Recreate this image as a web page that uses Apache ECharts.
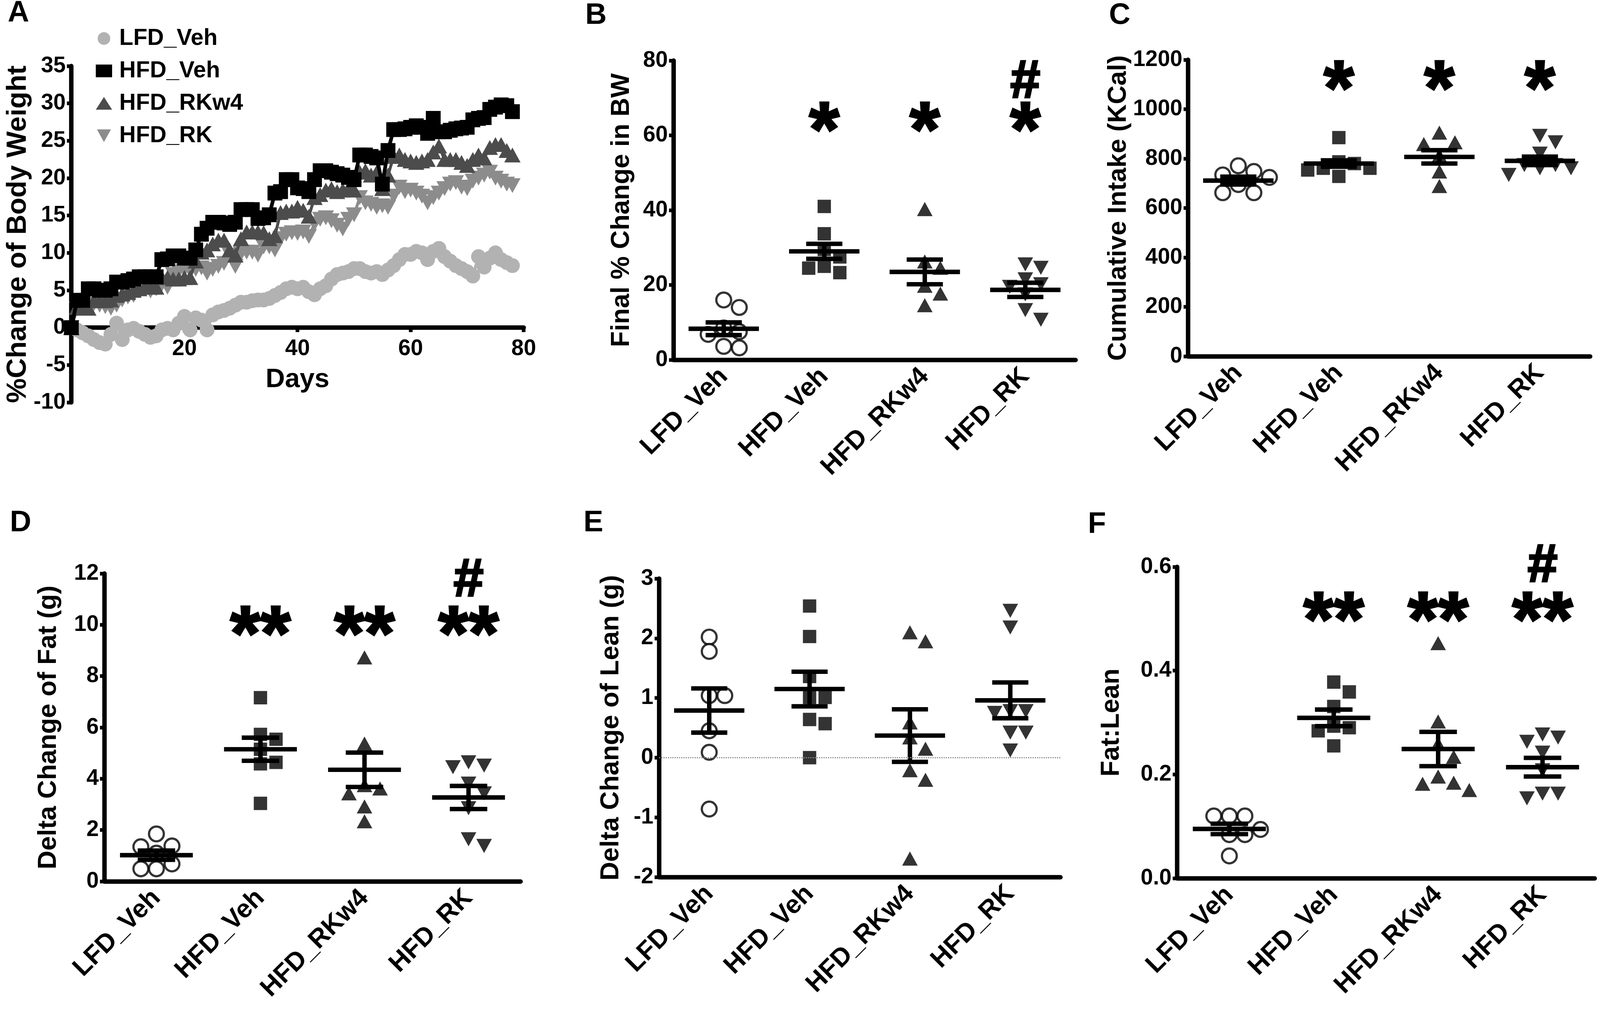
<!DOCTYPE html>
<html>
<head>
<meta charset="utf-8">
<title>Body weight, intake and body composition</title>
<script src="https://cdn.jsdelivr.net/npm/echarts@6/dist/echarts.min.js"></script>
<style>
html, body { margin: 0; padding: 0; background: #fff; overflow: hidden; }
#main { width: 100vw; height: 100vh; }
</style>
</head>
<body>
<div id="main"></div>
<script>
// ---- panel A: % change of body weight, one value per day (day 0..78)
const lfdVeh = [0, -0.3, -0.7, -1.1, -1.6, -2.0, -2.2, -0.9, 0.6, -1.6, -0.3, -0.1, -0.5, -0.9, -1.3, -1.1, -0.3, -0.1, -0.3, 0.6,
  1.5, -0.3, 1.3, 1.0, -0.3, 1.7, 2.1, 2.3, 2.6, 3.0, 3.4, 3.4, 3.6, 3.7, 3.7, 3.9, 4.3, 4.7, 5.2, 5.4,
  5.2, 5.4, 4.8, 4.4, 5.2, 5.6, 6.5, 7.1, 7.3, 7.5, 7.9, 7.9, 7.5, 7.3, 7.5, 7.1, 7.7, 8.3, 9.1, 9.8,
  9.8, 10.2, 10.0, 9.1, 10.2, 10.6, 9.5, 8.9, 8.3, 7.9, 7.5, 6.9, 9.5, 8.1, 9.3, 10.0, 9.1, 8.7, 8.3];
const hfdVeh = [0, 3.65, 3.65, 5.2, 5.2, 5.0, 5.0, 5.2, 6.1, 6.1, 6.3, 6.5, 6.8, 6.8, 6.8, 6.8, 9.1, 9.2, 9.6, 9.6,
  9.3, 9.3, 10.4, 12.5, 13.3, 14.1, 14.1, 14.0, 13.8, 14.1, 15.8, 15.8, 15.8, 14.6, 14.7, 15.1, 18.0, 18.2, 19.8, 19.8,
  18.7, 18.6, 18.2, 19.8, 21.0, 21.0, 20.8, 20.6, 20.4, 20.1, 19.8, 23.1, 23.1, 22.9, 22.7, 19.2, 23.7, 26.5, 26.5, 26.6,
  26.8, 27.0, 26.8, 26.0, 28.0, 26.2, 26.2, 26.4, 26.6, 26.7, 26.8, 27.8, 28.0, 28.1, 29.2, 29.5, 29.8, 29.7, 28.9];
const hfdRKw4 = [0, 2.7, 2.6, 2.6, 3.6, 3.6, 3.6, 3.7, 4.3, 4.5, 4.7, 5.0, 5.2, 5.4, 5.4, 5.4, 6.7, 6.7, 6.5, 6.5,
  6.7, 6.7, 8.9, 10.1, 10.4, 11.2, 11.7, 11.7, 10.4, 9.7, 11.9, 12.8, 12.8, 12.8, 12.7, 11.9, 12.3, 15.4, 15.6, 15.6,
  16.1, 15.7, 14.9, 17.4, 17.8, 18.4, 18.6, 18.2, 18.4, 18.6, 18.4, 20.8, 21.0, 20.4, 20.8, 18.6, 20.4, 22.9, 23.1, 22.5,
  22.3, 22.1, 22.3, 22.5, 23.5, 24.3, 22.5, 22.5, 22.5, 22.1, 21.7, 22.5, 23.1, 22.7, 24.1, 24.5, 24.5, 23.7, 23.1];
const hfdRK = [0, 2.5, 2.6, 2.8, 3.2, 3.0, 2.8, 2.6, 3.0, 3.7, 4.1, 4.3, 4.9, 5.2, 4.9, 5.2, 5.8, 5.4, 7.1, 7.5,
  7.8, 7.6, 7.8, 8.0, 7.3, 7.8, 8.2, 8.6, 9.7, 8.2, 9.9, 10.1, 10.1, 9.7, 10.8, 10.8, 10.4, 11.9, 12.5, 12.7,
  12.6, 12.8, 12.2, 13.9, 14.5, 14.7, 14.3, 13.7, 13.2, 14.5, 15.1, 17.4, 16.7, 16.5, 16.1, 16.3, 16.1, 17.6, 18.8, 18.2,
  18.4, 18.0, 17.6, 16.7, 17.4, 18.0, 18.6, 19.2, 19.4, 18.8, 18.6, 19.6, 20.0, 20.4, 20.8, 20.0, 19.6, 19.2, 19.0];
const weightTicks = [-10, -5, 0, 5, 10, 15, 20, 25, 30, 35];
const dayTicks = [0, 20, 40, 60, 80];

// ---- panels B-F: individual animals, mean and SEM per group
const groups = ['LFD_Veh', 'HFD_Veh', 'HFD_RKw4', 'HFD_RK'];

const bwLFD = [16, 14, 8.5, 7.5, 6.8, 3.6, 3.2];
const bwHFD = [41, 33.7, 29.5, 27.5, 25, 24.5, 23.3];
const bwRKw4 = [40.3, 26.3, 24.6, 19.8, 17.7, 14.6];
const bwRK = [25.5, 24.6, 21.5, 20.2, 19.5, 17.5, 13.3, 10.7];
const bwMean = [8.3, 29.0, 23.5, 18.7];
const bwSem = [1.7, 2.0, 3.3, 1.9];
const bwTicks = [0, 20, 40, 60, 80];
const bwStars = ['', '*', '*', '*'];
const bwHash = ['', '', '', '#'];

const kcalLFD = [771, 748, 734, 724, 695, 662, 662];
const kcalHFD = [885, 787, 780, 761, 761, 754, 728];
const kcalRKw4 = [905, 866, 859, 813, 748, 689];
const kcalRK = [892, 866, 820, 774, 774, 761, 761, 734];
const kcalMean = [711, 780, 807, 791];
const kcalSem = [16, 13, 27, 17];
const kcalTicks = [0, 200, 400, 600, 800, 1000, 1200];
const kcalStars = ['', '*', '*', '*'];
const kcalHash = ['', '', '', ''];

const fatLFD = [1.85, 1.38, 1.35, 1.1, 0.68, 0.49, 0.49];
const fatHFD = [7.16, 5.73, 5.54, 5.15, 4.64, 4.58, 3.04];
const fatRKw4 = [8.73, 5.37, 3.75, 3.62, 3.43, 2.92, 2.34];
const fatRK = [4.64, 4.51, 4.45, 3.81, 3.43, 2.85, 1.64, 1.38];
const fatMean = [1.02, 5.15, 4.35, 3.27];
const fatSem = [0.18, 0.45, 0.67, 0.45];
const fatTicks = [0, 2, 4, 6, 8, 10, 12];
const fatStars = ['', '**', '**', '**'];
const fatHash = ['', '', '', '#'];

const leanLFD = [2.02, 1.78, 1.04, 1.04, 0.45, 0.09, -0.86];
const leanHFD = [2.54, 2.03, 1.36, 1.01, 1.01, 0.64, 0.57, 0.0];
const leanRKw4 = [2.1, 1.95, 0.59, 0.34, 0.15, -0.21, -0.37, -1.69];
const leanRK = [2.46, 2.18, 0.78, 0.78, 0.75, 0.42, 0.42, 0.12];
const leanMean = [0.79, 1.15, 0.37, 0.96];
const leanSem = [0.37, 0.29, 0.44, 0.30];
const leanTicks = [-2, -1, 0, 1, 2, 3];
const leanStars = ['', '', '', ''];
const leanHash = ['', '', '', ''];

const ratioLFD = [0.12, 0.12, 0.12, 0.094, 0.084, 0.084, 0.043];
const ratioHFD = [0.378, 0.359, 0.331, 0.293, 0.290, 0.284, 0.255];
const ratioRKw4 = [0.453, 0.302, 0.259, 0.234, 0.196, 0.184, 0.182, 0.170];
const ratioRK = [0.277, 0.271, 0.263, 0.242, 0.208, 0.163, 0.163, 0.154];
const ratioMean = [0.095, 0.309, 0.249, 0.214];
const ratioSem = [0.010, 0.016, 0.033, 0.018];
const ratioTicks = [0, 0.2, 0.4, 0.6];
const ratioStars = ['', '**', '**', '**'];
const ratioHash = ['', '', '', '#'];

// ---- layout, designed on a 4552 x 2616 page and scaled to the window
const KX = (window.innerWidth || 4552) / 4552;
const KY = (window.innerHeight || 2616) / 2616;
const KF = Math.sqrt(KX * KY);
const X = v => v * KX, Y = v => v * KY, F = v => v * KF;

const FONT = "'Liberation Sans', Arial, Helvetica, sans-serif";
const AXIS_W = F(12);
const TICK_FS = F(60);
const labelText = { color: '#000', fontFamily: FONT, fontWeight: 'bold' };
const axisLine = { onZero: false, lineStyle: { color: '#000', width: AXIS_W } };
const axisTick = { length: F(12), lineStyle: { width: F(10), color: '#000' } };

const gridA = { left: 203, top: 169, width: 1287, height: 861 };

const panels = [
  { letter: 'B', at: [1665, 2], grid: { left: 1916, top: 155, width: 1144, height: 766 },
    name: 'Final % Change in BW', nameGap: 110, ticks: bwTicks,
    points: [bwLFD, bwHFD, bwRKw4, bwRK], mean: bwMean, sem: bwSem,
    stars: bwStars, hash: bwHash, starAt: 0.81, hashAt: 0.925 },
  { letter: 'C', at: [3155, 2], grid: { left: 3380, top: 153, width: 1144, height: 759 },
    name: 'Cumulative Intake (KCal)', nameGap: 155, ticks: kcalTicks,
    points: [kcalLFD, kcalHFD, kcalRKw4, kcalRK], mean: kcalMean, sem: kcalSem,
    stars: kcalStars, hash: kcalHash, starAt: 0.945, hashAt: 1 },
  { letter: 'D', at: [28, 1301], grid: { left: 297, top: 1468, width: 1184, height: 788 },
    name: 'Delta Change of Fat (g)', nameGap: 122, ticks: fatTicks,
    points: [fatLFD, fatHFD, fatRKw4, fatRK], mean: fatMean, sem: fatSem,
    stars: fatStars, hash: fatHash, starAt: 0.845, hashAt: 0.975 },
  { letter: 'E', at: [1660, 1301], grid: { left: 1875, top: 1481, width: 1142, height: 764 },
    name: 'Delta Change of Lean (g)', nameGap: 100, ticks: leanTicks, zeroLine: true,
    points: [leanLFD, leanHFD, leanRKw4, leanRK], mean: leanMean, sem: leanSem,
    stars: leanStars, hash: leanHash, starAt: 0.9, hashAt: 1 },
  { letter: 'F', at: [3095, 1305], grid: { left: 3349, top: 1451, width: 1188, height: 797 },
    name: 'Fat:Lean', nameGap: 150, ticks: ratioTicks, decimals: 1,
    points: [ratioLFD, ratioHFD, ratioRKw4, ratioRK], mean: ratioMean, sem: ratioSem,
    stars: ratioStars, hash: ratioHash, starAt: 0.87, hashAt: 1.0 }
];

const markers = [
  { symbol: 'circle', size: F(40), itemStyle: { color: '#fff', borderColor: '#000', borderWidth: F(6) } },
  { symbol: 'rect', size: F(36), itemStyle: { color: '#000' } },
  { symbol: 'triangle', size: [F(42), F(38)], itemStyle: { color: '#000' } },
  { symbol: 'triangle', size: [F(42), F(38)], rotate: 180, itemStyle: { color: '#000' } }
];

function toGrid(g) {
  return { show: false, outerBoundsMode: 'none', left: X(g.left), top: Y(g.top), width: X(g.width), height: Y(g.height) };
}

// spread points that would overlap sideways, like a column scatter
function swarmOffsets(values, unitPx, catPx, size) {
  const placed = [];
  const out = new Array(values.length).fill(0);
  const order = values.map((v, i) => i).sort((a, b) => values[b] - values[a]);
  order.forEach(i => {
    const y = values[i] * unitPx;
    for (let k = 0; k < 40; k++) {
      const dx = (k % 2 ? 1 : -1) * Math.ceil(k / 2) * size * 1.05;
      const free = placed.every(p => Math.abs(p.x - dx) >= size || Math.abs(p.y - y) >= size * 0.95);
      if (free) {
        placed.push({ x: dx, y: y });
        out[i] = dx / catPx;
        break;
      }
    }
  });
  return out;
}

function renderMeanSem(params, api) {
  const c = api.value(0), m = api.value(1), s = api.value(2);
  const seg = (x1, y1, x2, y2) => {
    const a = api.coord([x1, y1]), b = api.coord([x2, y2]);
    return { type: 'line', shape: { x1: a[0], y1: a[1], x2: b[0], y2: b[1] },
      style: { stroke: '#000', lineWidth: F(12) } };
  };
  return { type: 'group', children: [
    seg(c - 0.35, m, c + 0.35, m),
    seg(c, m - s, c, m + s),
    seg(c - 0.18, m + s, c + 0.18, m + s),
    seg(c - 0.18, m - s, c + 0.18, m - s)
  ] };
}

// significance marks ('*', '**', '#') drawn as text at a data position
function markRenderer(marks) {
  return function (params, api) {
    const mk = marks[params.dataIndex];
    const pt = api.coord([api.value(0), api.value(1)]);
    const size = F(mk.big ? 210 : 145);
    return {
      type: 'text', x: pt[0], y: pt[1] + F(mk.big ? 46 : 0),
      style: { text: mk.text, fill: '#000', stroke: '#000', lineWidth: F(mk.big ? 5 : 5),
        font: 'bold ' + size + 'px ' + FONT, align: 'center', verticalAlign: 'middle' }
    };
  };
}

const titles = [{ text: 'A', left: X(22), top: Y(-4) }]
  .concat(panels.map(p => ({ text: p.letter, left: X(p.at[0]), top: Y(p.at[1]) })))
  .map(t => Object.assign(t, { padding: 0, textStyle: Object.assign({ fontSize: F(80) }, labelText) }));

const xAxes = [{
  type: 'value', gridIndex: 0, min: dayTicks[0], max: dayTicks[dayTicks.length - 1], interval: dayTicks[1] - dayTicks[0],
  // the day axis crosses at 0 %, i.e. 10 of the 45 units above the bottom of the plot
  offset: -Y(gridA.height) * (0 - weightTicks[0]) / (weightTicks[weightTicks.length - 1] - weightTicks[0]),
  name: 'Days', nameLocation: 'middle', nameGap: Y(100),
  nameTextStyle: Object.assign({ fontSize: F(72) }, labelText),
  axisLine: axisLine, axisTick: axisTick,
  axisLabel: Object.assign({ fontSize: TICK_FS, margin: Y(26), formatter: v => (v === 0 ? '' : String(v)) }, labelText),
  splitLine: { show: false }
}];
const yAxes = [{
  type: 'value', gridIndex: 0, min: weightTicks[0], max: weightTicks[weightTicks.length - 1], interval: weightTicks[1] - weightTicks[0],
  name: '%Change of Body Weight', nameLocation: 'middle', nameGap: X(100),
  nameTextStyle: Object.assign({ fontSize: F(75) }, labelText),
  axisLine: axisLine, axisTick: axisTick,
  axisLabel: Object.assign({ fontSize: TICK_FS, margin: X(16) }, labelText),
  splitLine: { show: false }
}];

const series = [
  { name: 'LFD_Veh', data: lfdVeh, symbol: 'circle', size: F(40), color: '#b2b2b2', width: F(8), z: 2 },
  { name: 'HFD_Veh', data: hfdVeh, symbol: 'rect', size: F(40), color: '#000', width: F(10), z: 5 },
  { name: 'HFD_RKw4', data: hfdRKw4, symbol: 'triangle', size: [F(44), F(40)], color: '#4c4c4c', width: F(8), z: 4 },
  { name: 'HFD_RK', data: hfdRK, symbol: 'triangle', rotate: 180, size: [F(44), F(40)], color: '#8c8c8c', width: F(8), z: 3 }
].map(s => ({
  name: s.name, type: 'line', xAxisIndex: 0, yAxisIndex: 0, z: s.z,
  data: s.data.map((v, day) => [day, v]),
  symbol: s.symbol, symbolSize: s.size, symbolRotate: s.rotate || 0, showSymbol: true,
  lineStyle: { color: s.color, width: s.width }, itemStyle: { color: s.color }
}));

panels.forEach((p, k) => {
  const gi = k + 1;
  const valIdx = xAxes.length + 1;
  const min = p.ticks[0], max = p.ticks[p.ticks.length - 1];
  const unitPx = Y(p.grid.height) / (max - min);
  const catPx = X(p.grid.width) / groups.length;

  xAxes.push({
    type: 'category', gridIndex: gi, data: groups,
    axisLine: axisLine,
    axisTick: Object.assign({ alignWithLabel: true }, axisTick),
    axisLabel: Object.assign({ fontSize: F(70), rotate: 45, margin: F(34), interval: 0 }, labelText),
    splitLine: { show: false }
  });
  xAxes.push({ type: 'value', gridIndex: gi, min: -0.5, max: groups.length - 0.5, show: false, splitLine: { show: false } });
  yAxes.push({
    type: 'value', gridIndex: gi, min: min, max: max, interval: p.ticks[1] - p.ticks[0],
    name: p.name, nameLocation: 'middle', nameGap: X(p.nameGap),
    nameTextStyle: Object.assign({ fontSize: F(70) }, labelText),
    axisLine: axisLine, axisTick: axisTick,
    axisLabel: Object.assign({ fontSize: TICK_FS, margin: X(16),
      formatter: v => (p.decimals ? v.toFixed(p.decimals) : String(v)) }, labelText),
    splitLine: { show: false }
  });

  p.points.forEach((vals, g) => {
    const mk = markers[g];
    const offs = swarmOffsets(vals, unitPx, catPx, F(40));
    const s = {
      type: 'scatter', xAxisIndex: valIdx, yAxisIndex: gi, z: 3,
      data: vals.map((v, i) => [g + offs[i], v]),
      symbol: mk.symbol, symbolSize: mk.size, symbolRotate: mk.rotate || 0,
      itemStyle: mk.itemStyle
    };
    if (p.zeroLine && g === 0) {
      s.markLine = { silent: true, symbol: ['none', 'none'], label: { show: false },
        lineStyle: { type: 'dotted', color: '#8a8a8a', width: F(3) }, data: [{ yAxis: 0 }] };
    }
    series.push(s);
  });

  series.push({
    type: 'custom', xAxisIndex: valIdx, yAxisIndex: gi, z: 4, clip: false,
    renderItem: renderMeanSem,
    encode: { x: 0, y: 1 },
    data: p.mean.map((m, g) => [g, m, p.sem[g]])
  });

  const marks = [];
  p.stars.forEach((t, g) => { if (t) marks.push({ text: t, value: [g, min + p.starAt * (max - min)], big: true }); });
  p.hash.forEach((t, g) => { if (t) marks.push({ text: t, value: [g, min + p.hashAt * (max - min)], big: false }); });
  if (marks.length) {
    series.push({
      type: 'custom', xAxisIndex: valIdx, yAxisIndex: gi, z: 6, clip: false, silent: true,
      renderItem: markRenderer(marks),
      encode: { x: 0, y: 1 },
      data: marks.map(m => m.value)
    });
  }
});

const chart = echarts.init(document.getElementById('main'));
chart.setOption({
  animation: false,
  backgroundColor: '#fff',
  title: titles,
  legend: {
    orient: 'vertical', left: X(267), top: Y(64), itemWidth: F(44), itemHeight: F(34), itemGap: Y(24),
    textStyle: Object.assign({ fontSize: F(62), padding: [0, 0, 0, F(14)] }, labelText),
    data: [
      { name: 'LFD_Veh', icon: 'circle' },
      { name: 'HFD_Veh', icon: 'rect' },
      { name: 'HFD_RKw4', icon: 'triangle' },
      { name: 'HFD_RK', icon: 'path://M0,0L10,0L5,9Z' }
    ]
  },
  grid: [gridA].concat(panels.map(p => p.grid)).map(toGrid),
  xAxis: xAxes,
  yAxis: yAxes,
  series: series
});
window.addEventListener('resize', () => chart.resize());
</script>
</body>
</html>
